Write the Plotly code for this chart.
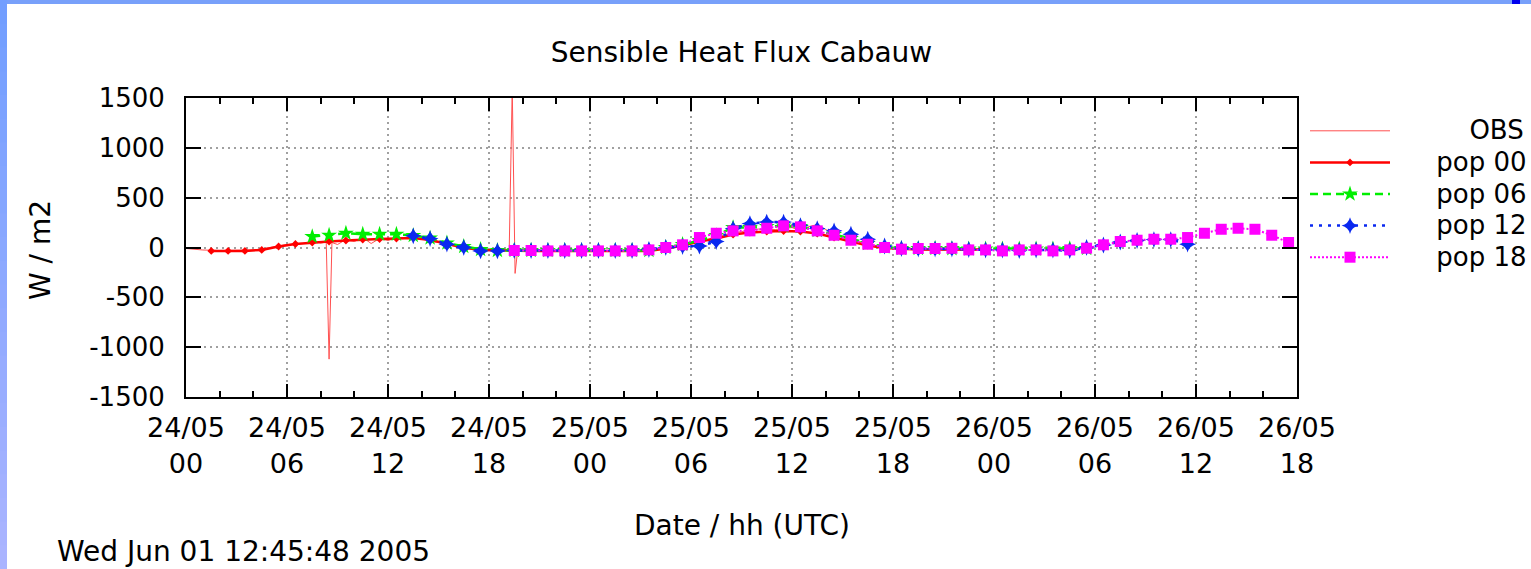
import plotly.graph_objects as go

W, H = 1531, 569
L, R, T, B = 186, 1297, 98, 397  # plot area in pixels


def px(x):
    return (x - L) / (R - L)


def py(y):
    return (B - y) / (B - T)


# ---------------- data ----------------
x_tick_vals = [0, 6, 12, 18, 24, 30, 36, 42, 48, 54, 60, 66]
x_tick_text = ["24/05<br>00", "24/05<br>06", "24/05<br>12", "24/05<br>18",
               "25/05<br>00", "25/05<br>06", "25/05<br>12", "25/05<br>18",
               "26/05<br>00", "26/05<br>06", "26/05<br>12", "26/05<br>18"]
y_tick_vals = [1500, 1000, 500, 0, -500, -1000, -1500]
y_tick_text = ["1500", "1000", "500", "0", "-500", "-1000", "-1500"]

obs_hours = [0, 1, 2, 3, 4, 5, 6, 7, 7.5, 8, 8.33, 8.5, 8.67, 9, 9.5, 10, 10.5, 11, 11.5, 12,
             12.5, 13, 14, 15, 16, 17, 18, 19, 19.2, 19.38, 19.55, 19.7, 20, 21, 22, 23, 24,
             25, 26, 27, 28, 29, 30, 31, 32, 33, 34, 35, 36, 36.5, 37, 37.5, 38, 39, 40, 41,
             42, 43, 44, 45, 46, 47]
obs_values = [-10, -25, -30, -30, -25, 0, 30, 40, 70, 45, 55, -1120, 50, 30, 80, 60, 100, 40, 90, 70,
              95, 100, 85, 50, 10, -20, -30, -30, -30, 1600, -260, -30, -35, -35, -35, -35, -35,
              -35, -35, -35, -15, 10, 40, 80, 130, 160, 185, 180, 200, 170, 210, 230, 180, 100, 55, 15,
              -10, -20, -25, -25, -25, -25]

pop00_start = 1.5
pop00_values = [-34, -34, -34, -24, 10, 35, 50, 60, 70, 80, 85, 90, 95, 75, 40, 0, -25, -30, -35,
                -35, -35, -35, -35, -35, -35, -35, -35, -10, 20, 60, 90, 130, 150, 160, 165, 160,
                140, 100, 60, 20, -5, -15, -20, -20, -20, -20, -20]

pop06_start = 7.5
pop06_values = [110, 123, 143, 133, 133, 133, 120, 95, 45, 10, -20, -30, -30, -30, -30, -30, -30,
                -30, -30, -30, -30, 0, 30, 70, 120, 200, 200, 210, 215, 210, 170, 130, 90, 40, 5,
                -10, -10, -10, -12, -15, -15, -15, -15, -15, -15, -12, -10]

pop12_start = 13.5
pop12_values = [117, 90, 33, 0, -34, -34, -30, -30, -30, -30, -30, -30, -30, -30, -20, 0, 10, 15,
                60, 190, 240, 255, 255, 220, 190, 167, 133, 83, 15, -10, -15, -15, -15, -20, -25,
                -25, -30, -25, -25, -30, 0, 25, 55, 70, 80, 80, 33]

pop18_start = 19.5
pop18_values = [-30, -30, -34, -34, -34, -34, -34, -34, -24, 0, 27, 100, 143, 167, 167, 193, 217,
                207, 167, 123, 73, 33, 0, -17, -10, -10, -8, -24, -24, -34, -24, -24, -34, -24,
                -7, 27, 60, 73, 83, 83, 100, 143, 183, 193, 183, 123, 50]

series_names = ["OBS", "pop 00", "pop 06", "pop 12", "pop 18"]


def hours(start, vals):
    return [start + i for i in range(len(vals))]


FONT = "DejaVu Sans"
NB = "\u00a0"


def legend_label(name):
    # right-align the legend labels like the original (pad with non-breaking spaces)
    pad = NB * (9 if name == "OBS" else 5)
    return '<span style="font-size:26px">' + pad + name + "</span>"


fig = go.Figure()

fig.add_trace(go.Scatter(x=obs_hours, y=obs_values, mode="lines", name=legend_label(series_names[0]),
                         line=dict(color="#ff5050", width=1)))
fig.add_trace(go.Scatter(x=hours(pop00_start, pop00_values), y=pop00_values, mode="lines+markers",
                         name=legend_label(series_names[1]), line=dict(color="#ff0000", width=2.5),
                         marker=dict(symbol="diamond", size=6, color="#ff0000")))
fig.add_trace(go.Scatter(x=hours(pop06_start, pop06_values), y=pop06_values, mode="lines+markers",
                         name=legend_label(series_names[2]),
                         line=dict(color="#00ee00", width=2.5, dash="8px,5px"),
                         marker=dict(symbol="star", size=12, color="#00ee00")))
fig.add_trace(go.Scatter(x=hours(pop12_start, pop12_values), y=pop12_values, mode="lines+markers",
                         name=legend_label(series_names[3]),
                         line=dict(color="#0a28f0", width=2.5, dash="3px,6px"),
                         marker=dict(symbol="star-diamond", size=12, color="#0a28f0")))
fig.add_trace(go.Scatter(x=hours(pop18_start, pop18_values), y=pop18_values, mode="lines+markers",
                         name=legend_label(series_names[4]),
                         line=dict(color="#ff00ff", width=2, dash="2px,2px"),
                         marker=dict(symbol="square", size=11, color="#ff00ff")))

# decorative frame (blue bands at top and left)
shapes = [dict(type="rect", xref="paper", yref="paper", x0=px(0), x1=px(W), y0=py(4), y1=py(0),
               fillcolor="#78a0fa", line=dict(width=0), layer="above"),
          dict(type="rect", xref="paper", yref="paper", x0=px(1512), x1=px(1520), y0=py(4), y1=py(0),
               fillcolor="#0000ee", line=dict(width=0), layer="above")]
n = 24
c0 = (0x72, 0x9e, 0xff)
c1 = (0xaa, 0xb4, 0xff)
for i in range(n):
    f = i / (n - 1)
    col = "rgb(%d,%d,%d)" % tuple(round(a + (b - a) * f) for a, b in zip(c0, c1))
    shapes.append(dict(type="rect", xref="paper", yref="paper", x0=px(0), x1=px(7),
                       y0=py(min(H, H * (i + 1) / n + 2)), y1=py(H * i / n), fillcolor=col,
                       line=dict(width=0), layer="above"))

axis_common = dict(showline=True, linecolor="black", linewidth=2, mirror="ticks", ticks="inside",
                   tickcolor="black", tickwidth=2, showgrid=True, gridcolor="#a0a0a0", gridwidth=1.5,
                   griddash="1.5px,4.5px", zeroline=False, automargin=False)

fig.update_layout(
    width=W, height=H, autosize=False,
    margin=dict(l=L, r=W - R, t=T, b=H - B, autoexpand=False),
    paper_bgcolor="white", plot_bgcolor="white",
    font=dict(family=FONT, size=28, color="black"),
    title=dict(text="Sensible Heat Flux Cabauw", x=px((L + R) / 2), xref="paper", xanchor="center",
               y=1 - 52 / H, yanchor="middle", font=dict(family=FONT, size=28, color="black")),
    xaxis=dict(range=[0, 66], tickvals=x_tick_vals, ticktext=x_tick_text, ticklen=13,
               minor=dict(dtick=2, ticks="inside", ticklen=6, tickcolor="black", tickwidth=2,
                          showgrid=False),
               tickfont=dict(family=FONT, size=27, color="black"),
               ticklabelstandoff=6, **axis_common),
    yaxis=dict(range=[-1500, 1500], tickvals=y_tick_vals, ticktext=y_tick_text, ticklen=15,
               tickfont=dict(family=FONT, size=26, color="black"),
               ticklabelstandoff=14, **axis_common),
    legend=dict(x=px(1305), y=py(110), xanchor="left", yanchor="top", bgcolor="rgba(0,0,0,0)",
                font=dict(family=FONT, size=22, color="black"), itemwidth=80, tracegroupgap=0),
    shapes=shapes,
    annotations=[
        dict(text="W / m2", xref="paper", yref="paper", x=px(40), y=py(250), showarrow=False,
             textangle=-90, xanchor="center", yanchor="middle", font=dict(family=FONT, size=28)),
        dict(text="Date / hh (UTC)", xref="paper", yref="paper", x=px(742), y=py(525),
             showarrow=False, xanchor="center", yanchor="middle", font=dict(family=FONT, size=28)),
        dict(text="Wed Jun 01 12:45:48 2005", xref="paper", yref="paper", x=px(55), y=py(551),
             showarrow=False, xanchor="left", yanchor="middle", font=dict(family=FONT, size=28)),
    ],
)

fig.write_html("out.html")
